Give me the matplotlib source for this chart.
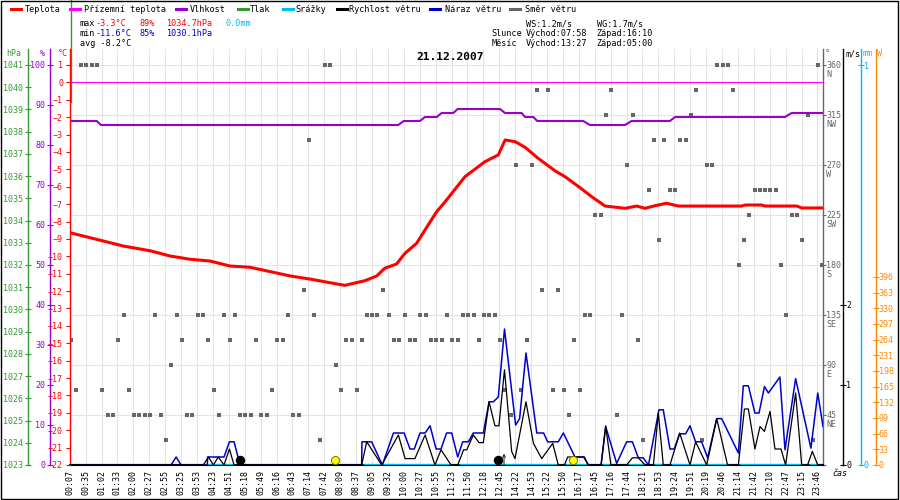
import numpy as np
import matplotlib.pyplot as plt
from matplotlib.lines import Line2D
from matplotlib.patches import Rectangle

plt.rcParams['font.family'] = 'DejaVu Sans Mono'

# x = slot index of the time labels (one slot per label)
time_labels = ['00:07', '00:35', '01:02', '01:33', '02:00', '02:27', '02:55', '03:25',
               '03:53', '04:23', '04:51', '05:18', '05:49', '06:16', '06:43', '07:14',
               '07:42', '08:09', '08:37', '09:05', '09:32', '10:00', '10:27', '10:55',
               '11:23', '11:50', '12:18', '12:45', '14:22', '14:53', '15:22', '15:50',
               '16:17', '16:45', '17:16', '17:44', '18:21', '18:53', '19:24', '19:51',
               '20:19', '20:46', '21:14', '21:42', '22:10', '22:47', '23:15', '23:46']

temp_t = [0, 2.11, 3.37, 5.05, 6.30, 7.56, 8.81, 10.08, 11.33, 12.6, 13.86, 15.12, 16.36,
          17.3, 18.56, 19.3, 19.8, 20.55, 21.07, 21.81, 22.33, 23.07, 23.6, 24.85, 26.1,
          26.94, 27.37, 28.0, 28.62, 29.45, 30.5, 31.13, 32.07, 32.81, 33.65, 34.91, 35.64,
          36.16, 36.79, 37.52, 38.25, 42.24, 42.45, 43.5, 43.7, 45.7, 46.01, 47.35]
temp_c = [-8.64, -9.12, -9.41, -9.68, -9.98, -10.17, -10.27, -10.56, -10.63, -10.88, -11.13,
          -11.31, -11.52, -11.67, -11.4, -11.13, -10.69, -10.44, -9.83, -9.25, -8.49, -7.43,
          -6.86, -5.42, -4.56, -4.17, -3.31, -3.41, -3.73, -4.37, -5.08, -5.42, -6.05, -6.57,
          -7.11, -7.24, -7.11, -7.24, -7.09, -6.95, -7.11, -7.11, -7.05, -7.05, -7.11, -7.11,
          -7.22, -7.22]

ground_t = [0, 47.35]
ground_c = [0, 0]

hum_t = [0, 1.7, 1.97, 20.65, 21.0, 22.02, 22.33, 23.07, 23.38, 24.11, 24.39, 27.05, 27.36,
         28.41, 28.62, 29.14, 29.39, 32.28, 32.7, 34.9, 35.32, 37.73, 38.05, 44.96, 45.38, 47.35]
hum_pct = [86, 86, 85, 85, 86, 86, 87, 87, 88, 88, 89, 89, 88, 88, 87, 87, 86, 86, 85, 85,
           86, 86, 87, 87, 88, 88]

rain_t = [0, 47.35]
rain_mm = [0, 0]

wind_t = [0, 8.40, 8.72, 9.03, 9.34, 9.70, 10.04, 10.33, 18.35, 18.67, 19.61, 20.66, 21.08,
          21.70, 22.34, 22.96, 23.34, 23.97, 24.39, 24.76, 24.96, 25.37, 25.73, 26.0, 26.36,
          26.73, 26.98, 27.33, 27.78, 27.99, 28.68, 29.15, 29.67, 30.36, 30.71, 31.10, 31.30,
          31.70, 32.30, 32.60, 33.40, 33.69, 34.02, 35.01, 35.37, 35.74, 36.17, 36.69, 37.00,
          37.31, 37.73, 38.34, 38.99, 39.34, 40.04, 40.67, 41.35, 42.03, 42.41, 42.66, 43.07,
          43.39, 43.67, 44.02, 44.33, 44.71, 45.0, 45.63, 46.01, 46.38, 46.68, 47.02, 47.35]
wind_ms = [0, 0, 0.1, 0, 0.1, 0, 0.2, 0, 0, 0.29, 0, 0.375, 0.08,
           0.08, 0.375, 0, 0.19, 0, 0, 0.19, 0.19, 0.375, 0.28, 0.28, 0.79,
           0.49, 0.49, 1.19, 0.17, 0.08, 0.79, 0.27, 0.08, 0.27, 0, 0, 0.1,
           0.1, 0.1, 0, 0, 0.49, 0, 0, 0.09, 0.09, 0, 0, 0.65,
           0, 0, 0.4, 0, 0.29, 0, 0.58, 0, 0, 0.7, 0.7, 0.2,
           0.48, 0.42, 0.67, 0.2, 0.2, 0, 0.9, 0, 0, 0.17, 0, 0]

gust_t = [0, 6.37, 6.69, 7.0, 8.65, 8.67, 9.70, 10.04, 10.33, 10.71, 18.35, 18.37, 18.98,
          19.65, 20.35, 21.02, 21.39, 21.66, 22.02, 22.34, 22.65, 23.03, 23.34, 23.69, 24.01,
          24.39, 24.70, 25.06, 25.37, 26.0, 26.36, 26.63, 26.94, 27.33, 28.03, 28.28, 28.68,
          29.36, 29.79, 30.04, 30.71, 31.03, 31.76, 32.35, 32.60, 33.40, 33.69, 34.38, 35.01,
          35.37, 35.74, 36.05, 36.38, 37.04, 37.31, 37.73, 38.0, 38.34, 38.72, 38.99, 39.34,
          39.72, 40.10, 40.67, 40.98, 42.03, 42.34, 42.66, 43.07, 43.33, 43.67, 43.92, 44.64,
          44.96, 45.63, 46.59, 47.02, 47.35]
gust_ms = [0, 0, 0.1, 0, 0, 0.1, 0.1, 0.29, 0.29, 0, 0, 0.29, 0.29,
           0, 0.4, 0.4, 0.2, 0.2, 0.4, 0.4, 0.49, 0.2, 0.2, 0.4, 0.4,
           0.1, 0.29, 0.29, 0.4, 0.4, 0.79, 0.79, 0.85, 1.7, 0.5, 0.58, 1.4,
           0.4, 0.4, 0.29, 0.29, 0.4, 0.1, 0.1, 0, 0, 0.48, 0.02, 0.29,
           0.29, 0.09, 0.09, 0, 0.69, 0.69, 0.2, 0.2, 0.39, 0.39, 0.49, 0.29,
           0.29, 0.09, 0.58, 0.58, 0.15, 0.99, 0.99, 0.65, 0.65, 0.98, 0.9, 1.1,
           0.19, 1.08, 0.21, 0.9, 0.48]

# wind direction samples, grouped by direction
dir_groups = {
    360: [0.71, 1.03, 1.38, 1.70, 16.05, 16.36, 40.69, 41.04, 41.38, 47.03],
    337.5: [29.38, 30.07, 34.02, 39.34, 41.69],
    315: [33.71, 35.41, 39.05, 46.38],
    292.5: [15.04, 36.73, 37.36, 38.37, 38.74],
    270: [28.06, 29.06, 35.03, 40.04, 40.35],
    247.5: [36.42, 37.73, 38.04, 43.07, 43.39, 43.71, 44.02, 44.40],
    225: [33.02, 33.40, 42.70, 45.41, 45.72],
    202.5: [37.04, 42.39, 46.03],
    180: [42.07, 44.71, 47.3],
    157.5: [14.70, 19.69, 29.69, 30.69],
    135: [3.42, 5.36, 6.75, 8.07, 8.38, 9.70, 10.39, 13.73, 15.36, 18.68, 19.01, 19.34, 20.07,
          21.08, 22.02, 22.38, 23.71, 24.72, 25.04, 25.41, 26.05, 26.36, 26.73, 32.39, 32.71,
          34.72, 45.02],
    112.5: [0.10, 3.04, 7.06, 8.70, 10.08, 11.72, 13.03, 13.41, 17.37, 17.72, 18.37, 20.38,
            20.70, 21.39, 21.70, 22.71, 23.03, 23.40, 24.04, 24.41, 25.72, 27.05, 28.74, 31.70,
            35.72],
    90: [6.37, 16.74],
    67.5: [0.40, 2.03, 3.73, 9.07, 12.72, 17.06, 18.06, 27.36, 28.37, 30.38, 31.08, 32.08],
    45: [2.41, 2.72, 4.04, 4.35, 4.74, 5.05, 5.74, 7.37, 7.69, 9.38, 10.71, 11.02, 11.39,
         12.03, 12.40, 14.04, 14.41, 27.74, 31.39, 34.40],
    22.5: [6.05, 15.74, 36.03, 39.74, 46.72],
}
dir_t = [t for d, ts in dir_groups.items() for t in ts]
dir_deg = [d for d, ts in dir_groups.items() for t in ts]

sun_t = [16.67, 31.63]    # sunrise 07:58, sunset 16:10
moon_t = [10.72, 26.92]   # moonset 05:00, moonrise 13:27

compass = {45: 'NE', 90: 'E', 135: 'SE', 180: 'S', 225: 'SW', 270: 'W', 315: 'NW', 360: 'N'}

RED = '#ff0000'
PINK = '#ff00ff'
PURPLE = '#9900cc'
GREEN = '#339933'
CYAN = '#00bbee'
BLUE = '#0000cc'
GRAY = '#666666'
ORANGE = '#ff8800'

W, H = 900, 500


def fx(px):
    return px / W


def fy(py):
    return 1 - py / H


fig = plt.figure(figsize=(9, 5), dpi=100)
rect = [fx(69.7), fy(465), fx(823) - fx(69.7), fy(49) - fy(465)]

# base axes: grid + wind direction
ax_d = fig.add_axes(rect)
ax_d.set_xlim(0, 47.35)
ax_d.set_ylim(0, 374.4)
ax_d.set_xticks(range(len(time_labels)))
ax_d.set_xticklabels(time_labels, rotation=90, fontsize=6)
ax_d.tick_params(axis='x', length=0, pad=3.5)
ax_d.yaxis.tick_right()
ax_d.set_yticks(range(0, 361, 45))
ax_d.set_yticklabels([''] + [str(d) for d in range(45, 361, 45)])
ax_d.tick_params(axis='y', colors=GRAY, direction='out', length=2, width=0.8, pad=0.5,
                 labelsize=6)
ax_d.grid(color='#e4e4e4', linewidth=0.8)
ax_d.set_axisbelow(True)
for s in ['left', 'top']:
    ax_d.spines[s].set_visible(False)
ax_d.spines['right'].set_color(GRAY)
ax_d.spines['right'].set_linewidth(1.0)
ax_d.spines['bottom'].set_linewidth(1.5)
ax_d.plot(dir_t, dir_deg, 's', color=GRAY, markersize=2.9, markeredgewidth=0, zorder=3)
for d, name in compass.items():
    ax_d.annotate(name, xy=(1, d), xycoords=('axes fraction', 'data'), xytext=(2.2, -3.6),
                  textcoords='offset points', ha='left', va='top', fontsize=6, color=GRAY)


def overlay(side, outward, color, ylim, ticks, direction='inout', length=4, pad=0.5):
    a = fig.add_axes(rect, sharex=ax_d)
    a.patch.set_visible(False)
    for s in a.spines.values():
        s.set_visible(False)
    sp = a.spines[side]
    sp.set_visible(True)
    sp.set_color(color)
    sp.set_linewidth(1.0)
    sp.set_position(('outward', outward))
    a.xaxis.set_visible(False)
    if side == 'left':
        a.yaxis.tick_left()
    else:
        a.yaxis.tick_right()
    a.set_ylim(*ylim)
    a.set_yticks(ticks)
    a.tick_params(axis='y', colors=color, direction=direction, length=length, width=0.8,
                  pad=pad, labelsize=6)
    return a


ax_p = overlay('left', 30.0, GREEN, (1023, 1041.72), range(1023, 1042), pad=1.5)
ax_h = overlay('left', 14.2, PURPLE, (0, 104), range(0, 101, 10), pad=1.4)
ax_t = overlay('left', 0, RED, (-22, 1.92), range(-22, 2), direction='out', length=2.9, pad=1.9)
ax_mm = overlay('right', 27.1, CYAN, (0, 1.04), [0, 1], pad=0.3)
ax_W = overlay('right', 37.9, ORANGE, (0, 876.2), range(0, 397, 33), pad=0.2)
ax_ws = overlay('right', 14.4, 'black', (0, 5.2), [0, 1, 2], pad=0.5)

# pressure trace only shows as a stub at the left edge
ax_p.axvline(0.07, ymin=0.8726, ymax=1.1178, color=GREEN, lw=1.0, clip_on=False)

ax_h.plot(hum_t, hum_pct, color=PURPLE, lw=1.5)
ax_t.plot(ground_t, ground_c, color=PINK, lw=0.8)
ax_t.plot(temp_t, temp_c, color=RED, lw=2.2)

ax_mm.plot(rain_t, rain_mm, color=CYAN, lw=1.6)

wind_arr = np.array(wind_ms)
ax_ws.plot(gust_t, gust_ms, color=BLUE, lw=1.1)
ax_ws.plot(wind_t, wind_ms, color='black', lw=0.9)
ax_ws.plot(wind_t, np.where(wind_arr == 0, 0.0, np.nan), color='black', lw=1.8)
ax_ws.plot(sun_t, [0.06] * len(sun_t), 'o', color='#ffff00', markeredgecolor='#777700',
           markersize=5.8, markeredgewidth=0.7, clip_on=False)
ax_ws.plot(moon_t, [0.06] * len(moon_t), 'o', color='black', markersize=5.8, clip_on=False)
ax_ws.annotate('', xy=(moon_t[1] + 0.38, 0.14), xytext=(moon_t[1] + 0.38, 0),
               arrowprops=dict(arrowstyle='->', lw=0.6, color='black',
                               shrinkA=0, shrinkB=0, mutation_scale=5))

# unit labels above the axes
for txt, c, x in [('hPa', GREEN, 14), ('%', PURPLE, 42.5), ('°C', RED, 63),
                  ('°', GRAY, 827), ('m/s', 'black', 853), ('mm', CYAN, 867.5),
                  ('W', ORANGE, 879.5)]:
    fig.text(fx(x), fy(54), txt, color=c, fontsize=6, ha='center', va='center')
fig.text(fx(840), fy(473), 'čas', fontsize=6, ha='center', va='center', style='italic')

fig.text(fx(450), fy(57), '21.12.2007', fontsize=8.1, fontweight='bold', ha='center',
         va='center')

# header legend
legend_items = [('Teplota', RED, 10.7, 25), ('Přízemní teplota', PINK, 70, 84),
                ('Vlhkost', PURPLE, 176, 190), ('Tlak', GREEN, 238, 250),
                ('Srážky', CYAN, 283, 295), ('Rychlost větru', 'black', 337, 349),
                ('Náraz větru', BLUE, 430, 445), ('Směr větru', GRAY, 510, 525)]
for label, c, x0, xt in legend_items:
    fig.add_artist(Line2D([fx(x0), fx(x0 + 10)], [fy(9), fy(9)], color=c, lw=2.2,
                          transform=fig.transFigure))
    fig.text(fx(xt), fy(9), label, fontsize=6.1, va='center', ha='left')

# summary block
info = [('max', 'black', 80, 24), ('-3.3°C', RED, 95.7, 24), ('89%', RED, 140, 24),
        ('1034.7hPa', RED, 165.7, 24), ('0.0mm', CYAN, 225.7, 24),
        ('min', 'black', 80, 33.7), ('-11.6°C', BLUE, 95.7, 33.7), ('85%', BLUE, 140, 33.7),
        ('1030.1hPa', BLUE, 165.7, 33.7),
        ('avg -8.2°C', 'black', 80, 43.3),
        ('WS:1.2m/s', 'black', 526, 24), ('WG:1.7m/s', 'black', 596.7, 24),
        ('Slunce', 'black', 491.7, 33.7), ('Východ:07:58', 'black', 526, 33.7),
        ('Západ:16:10', 'black', 596.7, 33.7),
        ('Měsíc', 'black', 491.7, 43.3), ('Východ:13:27', 'black', 526, 43.3),
        ('Západ:05:00', 'black', 596.7, 43.3)]
for txt, c, x, y in info:
    fig.text(fx(x), fy(y), txt, color=c, fontsize=6.1, va='center', ha='left')

fig.add_artist(Rectangle((fx(0.5), fy(498.5)), fx(897.5), fy(0.5) - fy(498.5), fill=False,
                         edgecolor='black', lw=1.0, transform=fig.transFigure))

fig.savefig('out.png', dpi=100)
